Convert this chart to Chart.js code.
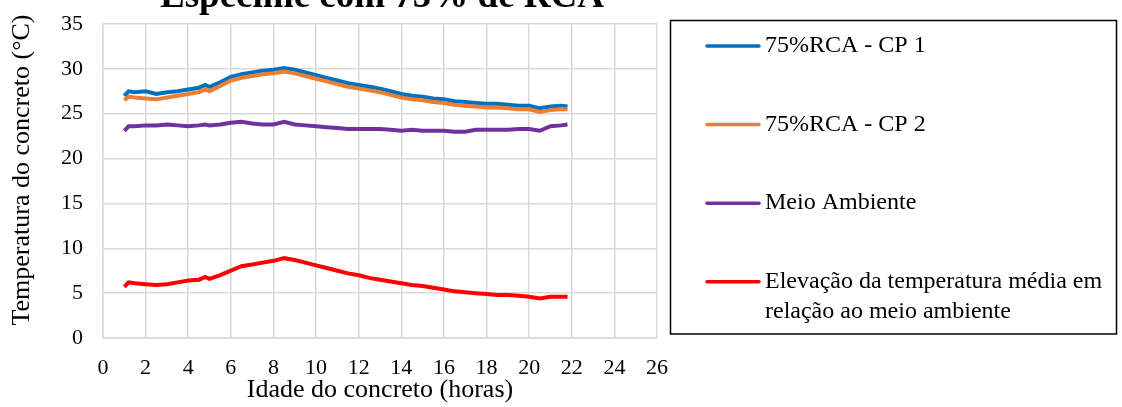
<!DOCTYPE html>
<html>
<head>
<meta charset="utf-8">
<script src="https://cdn.jsdelivr.net/npm/chart.js@4"></script>
<style>
  body { margin: 0; background: #fff; }
  #wrap { width: 1122px; height: 407px; position: relative; }
</style>
</head>
<body>
<div id="wrap"><canvas id="chart"></canvas></div>
<script>
// Data Stuff

const chartTitle = 'Espécime com 75% de RCA';
const xTitle = 'Idade do concreto (horas)';
const yTitle = 'Temperatura do concreto (°C)';

const seriesNames = ['75%RCA - CP 1', '75%RCA - CP 2', 'Meio Ambiente',
  'Elevação da temperatura média em relação ao meio ambiente'];
const seriesColors = ['#0070c0', '#ed7d31', '#7030a0', '#ff0000'];

const hours = [1.0, 1.2, 1.5, 2.0, 2.5, 3.0, 3.5, 4.0, 4.5, 4.8, 5.0, 5.5, 6.0, 6.5, 7.0, 7.5, 8.0, 8.5,
  9.0, 9.5, 10.0, 10.5, 11.0, 11.5, 12.0, 12.5, 13.0, 13.5, 14.0, 14.5, 15.0, 15.5, 16.0, 16.5,
  17.0, 17.5, 18.0, 18.5, 19.0, 19.5, 20.0, 20.5, 21.0, 21.5, 21.8];

const cp1 = [27.0, 27.5, 27.4, 27.5, 27.2, 27.4, 27.5, 27.7, 27.9, 28.2, 28.0, 28.5, 29.1, 29.4, 29.6, 29.8, 29.9, 30.1,
  29.9, 29.6, 29.3, 29.0, 28.7, 28.4, 28.2, 28.0, 27.8, 27.5, 27.2, 27.0, 26.9, 26.7, 26.6, 26.4,
  26.3, 26.2, 26.1, 26.1, 26.0, 25.9, 25.9, 25.6, 25.8, 25.9, 25.8];

const cp2 = [26.5, 26.9, 26.8, 26.7, 26.6, 26.8, 27.0, 27.2, 27.4, 27.7, 27.5, 28.1, 28.7, 29.0, 29.2, 29.4, 29.5, 29.7,
  29.5, 29.2, 28.9, 28.6, 28.3, 28.0, 27.8, 27.6, 27.4, 27.1, 26.8, 26.6, 26.5, 26.3, 26.2, 26.0,
  25.9, 25.8, 25.7, 25.7, 25.6, 25.5, 25.5, 25.2, 25.4, 25.5, 25.5];

const ambiente = [23.1, 23.6, 23.6, 23.7, 23.7, 23.8, 23.7, 23.6, 23.7, 23.8, 23.7, 23.8, 24.0, 24.1, 23.9, 23.8, 23.8, 24.1,
  23.8, 23.7, 23.6, 23.5, 23.4, 23.3, 23.3, 23.3, 23.3, 23.2, 23.1, 23.2, 23.1, 23.1, 23.1, 23.0,
  23.0, 23.2, 23.2, 23.2, 23.2, 23.3, 23.3, 23.1, 23.6, 23.7, 23.8];

const elevacao = [5.7, 6.2, 6.1, 6.0, 5.9, 6.0, 6.2, 6.4, 6.5, 6.8, 6.6, 7.0, 7.5, 8.0, 8.2, 8.4, 8.6, 8.9,
  8.7, 8.4, 8.1, 7.8, 7.5, 7.2, 7.0, 6.7, 6.5, 6.3, 6.1, 5.9, 5.8, 5.6, 5.4, 5.2,
  5.1, 5.0, 4.9, 4.8, 4.8, 4.7, 4.6, 4.4, 4.6, 4.6, 4.6];

const xTicks = [0, 2, 4, 6, 8, 10, 12, 14, 16, 18, 20, 22, 24, 26];
const yTicks = [0, 5, 10, 15, 20, 25, 30, 35];


// Chart Stuff

const serif = '"Liberation Serif", "Times New Roman", serif';
const gridGray = '#d9d9d9';

const pairs = (ys) => hours.map((h, i) => ({ x: h, y: ys[i] }));
const allValues = [cp1, cp2, ambiente, elevacao];
const drawOrder = [2, 1, 3, 0];

const datasets = allValues.map((vals, i) => ({
  label: seriesNames[i],
  data: pairs(vals),
  borderColor: seriesColors[i],
  backgroundColor: seriesColors[i],
  borderWidth: 4,
  pointRadius: 0,
  tension: 0,
  fill: false,
  order: drawOrder[i]
}));

// wraps a label into lines no wider than maxW
function wrapText(ctx, text, maxW) {
  const words = text.split(' ');
  let lines = [];
  let cur = '';
  for (let w of words) {
    let test = cur ? cur + ' ' + w : w;
    if (ctx.measureText(test).width > maxW && cur) {
      lines.push(cur);
      cur = w;
    } else {
      cur = test;
    }
  }
  lines.push(cur);
  return lines;
}

const extras = {
  id: 'extras',
  afterDraw(chart) {
    const ctx = chart.ctx;
    const area = chart.chartArea;
    ctx.save();

    // title, partly cut off at the top like the original
    ctx.font = 'bold 37px ' + serif;
    ctx.fillStyle = '#000';
    ctx.textAlign = 'center';
    ctx.textBaseline = 'alphabetic';
    ctx.fillText(chartTitle, 382, 7);

    // y axis title (sits a bit above the plot centre in the original)
    ctx.save();
    ctx.translate(22, (area.top + area.bottom) / 2 - 11);
    ctx.rotate(-Math.PI / 2);
    ctx.font = '26px ' + serif;
    ctx.textBaseline = 'middle';
    ctx.fillText(yTitle, 0, 0);
    ctx.restore();

    // legend box
    const bx = 670.5, by = 20.5, bw = 446, bh = 313.5;
    ctx.strokeStyle = '#000';
    ctx.lineWidth = 1.5;
    ctx.strokeRect(bx, by, bw, bh);

    ctx.font = '24px ' + serif;
    ctx.textAlign = 'left';
    ctx.textBaseline = 'middle';
    chart.data.datasets.forEach((ds, i) => {
      const y = 46 + i * 78.6;
      ctx.strokeStyle = ds.borderColor;
      ctx.lineWidth = 3.5;
      ctx.lineCap = 'round';
      ctx.beginPath();
      ctx.moveTo(707, y);
      ctx.lineTo(759, y);
      ctx.stroke();
      ctx.fillStyle = '#000';
      const lines = wrapText(ctx, ds.label, 345);
      lines.forEach((ln, k) => ctx.fillText(ln, 765, y + k * 30));
    });

    ctx.restore();
  }
};

const chartthis = new Chart(document.getElementById('chart'), {
  type: 'line',
  data: { datasets: datasets },
  plugins: [extras],
  options: {
    responsive: true,
    maintainAspectRatio: false,
    animation: false,
    layout: { padding: { left: 0, top: 24, right: 465, bottom: 0 } },
    plugins: {
      legend: { display: false },
      title: { display: false },
      tooltip: { enabled: false }
    },
    scales: {
      x: {
        type: 'linear',
        min: 0,
        max: 26,
        afterBuildTicks: (s) => { s.ticks = xTicks.map(v => ({ value: v })); },
        afterFit: (s) => { s.height = 69; s.paddingLeft = 0; s.paddingRight = 0; },
        grid: { color: gridGray, lineWidth: 1.5, drawTicks: false },
        border: { display: true, color: gridGray, width: 1.5 },
        ticks: { color: '#000', padding: 17, maxRotation: 0, font: { family: serif, size: 22 } },
        title: {
          display: true,
          text: xTitle,
          color: '#000',
          font: { family: serif, size: 26 },
          padding: { top: 0, bottom: 1 }
        }
      },
      y: {
        min: 0,
        max: 35,
        afterBuildTicks: (s) => { s.ticks = yTicks.map(v => ({ value: v })); },
        afterFit: (s) => { s.width = 103; s.paddingTop = 0; s.paddingBottom = 0; },
        grid: { color: gridGray, lineWidth: 1.5, drawTicks: false },
        border: { display: true, color: gridGray, width: 1.5 },
        ticks: { color: '#000', padding: 20, font: { family: serif, size: 22 } },
        title: { display: false }
      }
    }
  }
});
</script>
</body>
</html>
